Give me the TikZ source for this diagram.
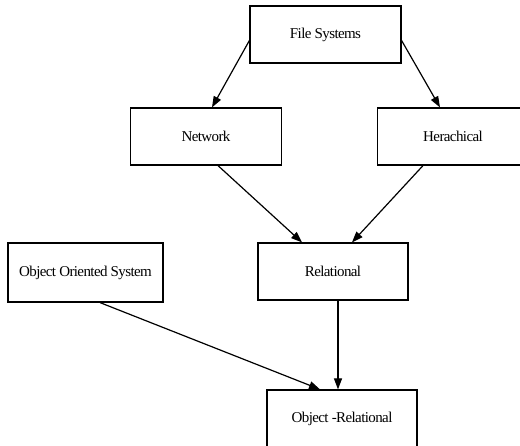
\documentclass[tikz,border=0pt]{standalone}
\usepackage{fontspec}
\setmainfont{Liberation Serif}[LetterSpace=-4]
\usetikzlibrary{arrows.meta}
\begin{document}
\begin{tikzpicture}[x=1pt,y=-1pt,
  box/.style={draw=black,line width=1.2pt,rectangle,minimum width=151pt,minimum height=57pt,inner sep=0pt,font=\fontsize{15pt}{17pt}\selectfont},
  arr/.style={line width=1.2pt,-{Triangle[length=11pt,width=8pt]}}]
\useasboundingbox (0,0) rectangle (520,446);
\begin{scope}
\clip (0,0) rectangle (520,446);
\node[box] (fs) at (325.5,34.5) {File Systems};
\node[box] (net) at (206,136.5) {Network};
\node[box] (her) at (453,136.5) {Herachical};
\node[box,minimum width=155pt,minimum height=59pt] (oos) at (85.5,272.5) {Object Oriented System};
\node[box,minimum width=150pt] (rel) at (333,271.5) {Relational};
\node[box,minimum width=150pt] (or) at (342,418.5) {Object -Relational};
\end{scope}
\draw[arr] ([yshift=-6pt]fs.west) -- ([xshift=6pt]net.north);
\draw[arr] ([yshift=-6pt]fs.east) -- ([xshift=-13pt]her.north);
\draw[arr] ([xshift=12pt]net.south) -- ([xshift=-31pt]rel.north);
\draw[arr] ([xshift=-30pt]her.south) -- ([xshift=19pt]rel.north);
\draw[arr] ([xshift=5pt]rel.south) -- ([xshift=5pt]rel.south |- or.north);
\draw[arr] ([xshift=14.5pt]oos.south) -- ([xshift=-22pt]or.north);
\end{tikzpicture}
\end{document}
